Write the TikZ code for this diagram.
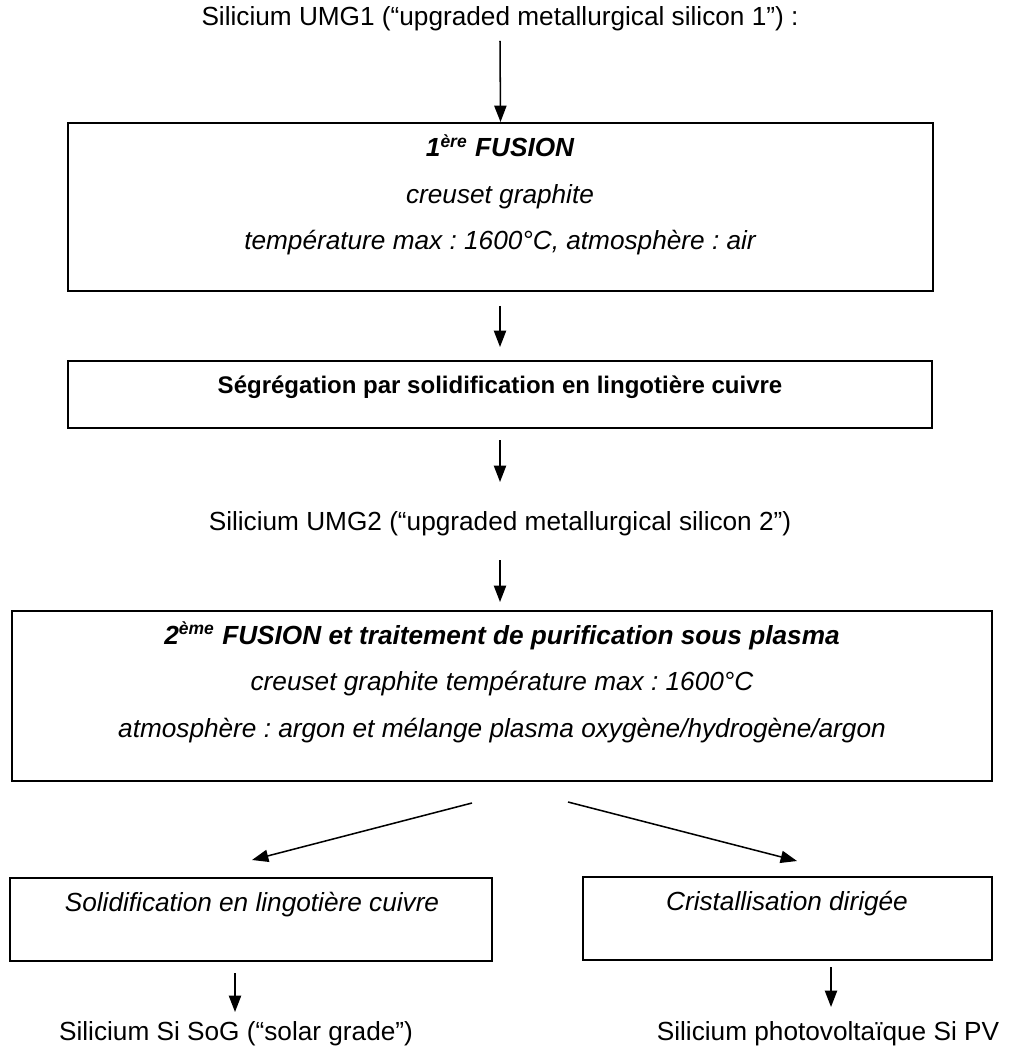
\documentclass[tikz,border=0pt]{standalone}
\usepackage{fontspec}
\setmainfont{Liberation Sans}
\frenchspacing
\usetikzlibrary{arrows.meta,fit}
\begin{document}
\begin{tikzpicture}[x=0.458pt,y=-0.458pt,
  box/.style={draw, line width=0.9pt, inner sep=0pt},
  txt/.style={anchor=base, inner sep=0pt, font=\fontsize{12}{14}\selectfont\frenchspacing},
  ittxt/.style={anchor=base, inner sep=0pt, font=\fontsize{12}{14}\selectfont\itshape\frenchspacing},
  bitxt/.style={anchor=base, inner sep=0pt, font=\fontsize{12}{14}\selectfont\bfseries\itshape\frenchspacing},
  btxt/.style={anchor=base, inner sep=0pt, font=\fontsize{11}{13}\selectfont\bfseries\frenchspacing},
  arr/.style={line width=0.7pt, -{Triangle[length=7.5pt,width=5.6pt]}}]
\useasboundingbox (0,0) rectangle (1013,1053);

% title
\node[txt] (umg1) at (500,26) {Silicium UMG1 (“upgraded metallurgical silicon 1”) :};

% box 1
\node[box, fit={(68,123) (933,291)}] (fus1) {};
\node[bitxt] (fus1a) at (500,157) {1\textsuperscript{ère} FUSION};
\node[ittxt] (fus1b) at (500,203.5) {creuset graphite};
\node[ittxt] (fus1c) at (500,250) {température max : 1600°C, atmosphère : air};

% box 2
\node[box, fit={(68,361) (932,428)}] (seg) {};
\node[btxt] (segt) at (500,394) {Ségrégation par solidification en lingotière cuivre};

% UMG2
\node[txt] (umg2) at (500,530) {Silicium UMG2 (“upgraded metallurgical silicon 2”)};

% box 3
\node[box, fit={(12,611) (992,781)}] (fus2) {};
\node[bitxt] (fus2a) at (502,644) {2\textsuperscript{ème} FUSION et traitement de purification sous plasma};
\node[ittxt] (fus2b) at (502,690.5) {creuset graphite température max : 1600°C};
\node[ittxt] (fus2c) at (502,737) {atmosphère : argon et mélange plasma oxygène/hydrogène/argon};

% box 4, 5
\node[box, fit={(10,878) (492,961)}] (solid) {};
\node[ittxt] (solidt) at (252,911) {Solidification en lingotière cuivre};
\node[box, fit={(583,877) (992,960)}] (crist) {};
\node[ittxt] (cristt) at (787,910) {Cristallisation dirigée};

% bottom texts
\node[txt] (sog) at (236,1040) {Silicium Si SoG (“solar grade”)};
\node[txt] (pv) at (828,1040) {Silicium photovoltaïque Si PV};

% connector end points
\coordinate (a1s) at (500,41);
\coordinate (a2s) at (500,306);
\coordinate (a2e) at (500,347);
\coordinate (a3s) at (500,440);
\coordinate (a3e) at (500,482);
\coordinate (a4s) at (500,560);
\coordinate (a4e) at (500,602);
\coordinate (dls) at (472,803);
\coordinate (dle) at (252,860);
\coordinate (drs) at (568,802);
\coordinate (dre) at (797,861);
\coordinate (bls) at (235,973);
\coordinate (ble) at (235,1012);
\coordinate (brs) at (831,967);
\coordinate (bre) at (831,1007);

\draw[arr] (a1s) -- (fus1.north);
\draw[arr] (a2s) -- (a2e);
\draw[arr] (a3s) -- (a3e);
\draw[arr] (a4s) -- (a4e);
\draw[arr] (dls) -- (dle);
\draw[arr] (drs) -- (dre);
\draw[arr] (bls) -- (ble);
\draw[arr] (brs) -- (bre);
\end{tikzpicture}
\end{document}
